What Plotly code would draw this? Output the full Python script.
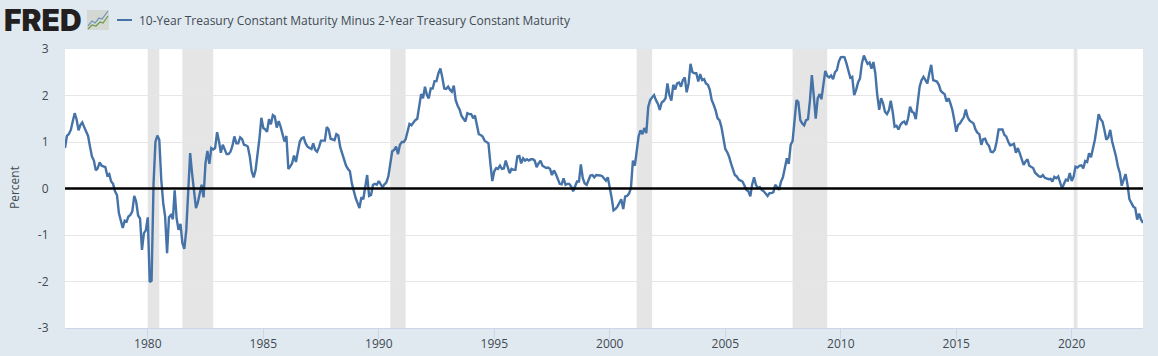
import pandas as pd
import plotly.graph_objects as go

SERIES_NAME = "10-Year Treasury Constant Maturity Minus 2-Year Treasury Constant Maturity"
START_MONTH = "1976-06-01"

v1976 = [.87, 1.13, 1.17, 1.26, 1.44, 1.62, 1.49]
v1977 = [1.25, 1.37, 1.42, 1.32, 1.22, 1.13, .9, .69, .6, .39, .44, .56]
v1978 = [.49, .47, .46, .28, .31, .15, .10, -.06, -.14, -.53, -.71, -.85]
v1979 = [-.69, -.71, -.6, -.57, -.49, -.16, -.28, -.58, -.65, -1.32, -.96, -.9]
v1980 = [-.62, -2.01, -1.98, .1, 1.0, 1.14, 1.05, .19, -.31, -.6, -1.39, -.62]
v1981 = [-.57, -.66, -.04, -.64, -.89, -.76, -1.17, -1.3, -.89, .04, .76, .33]
v1982 = [-.1, -.42, -.31, -.14, .08, -.19, .54, .81, .53, .87, .84, .87]
v1983 = [1.21, 1.01, .77, .94, .83, .74, .74, .79, .92, 1.12, .97, .97]
v1984 = [1.1, 1.06, .94, .93, .9, .69, .37, .24, .4, .69, 1.08, 1.52]
v1985 = [1.3, 1.27, 1.22, 1.49, 1.38, 1.58, 1.55, 1.31, 1.45, 1.33, 1.15, 1.01]
v1986 = [1.13, .42, .47, .54, .71, .57, .79, 1.01, 1.08, 1.1, .97, .9]
v1987 = [.87, .85, .97, .83, .79, .89, 1.03, 1.03, 1.03, 1.32, 1.27, 1.07]
v1988 = [1.05, 1.04, 1.17, 1.14, .89, .74, .63, .49, .42, .37, .11, -.06]
v1989 = [-.21, -.32, -.42, -.19, -.23, .04, .29, -.16, -.14, .08, .1, .08]
v1990 = [.16, .09, .03, .09, .13, .26, .51, .8, .83, .9, .74, .94]
v1991 = [1.0, 1.0, 1.06, 1.22, 1.39, 1.36, 1.42, 1.47, 1.5, 1.8, 2.03, 1.94]
v1992 = [2.19, 2.01, 1.94, 2.15, 2.15, 2.31, 2.31, 2.48, 2.58, 2.39, 2.15, 2.14]
v1993 = [2.19, 2.12, 2.08, 2.21, 1.9, 1.78, 1.7, 1.56, 1.51, 1.44, 1.62, 1.6]
v1994 = [1.6, 1.51, 1.57, 1.35, 1.17, 1.15, 1.12, 1.03, 1.0, .97, .53, .16]
v1995 = [.37, .44, .42, .49, .42, .43, .6, .44, .33, .42, .4, .4]
v1996 = [.69, .7, .54, .65, .6, .63, .6, .63, .63, .6, .46, .54]
v1997 = [.6, .49, .46, .44, .45, .42, .29, .39, .31, .22, .1, .09]
v1998 = [.22, .08, .1, .1, .04, -.06, .04, .15, .15, .52, .22, .11]
v1999 = [.08, .19, .28, .29, .24, .29, .29, .28, .27, .22, .17, .24]
v2000 = [.04, -.21, -.47, -.44, -.39, -.31, -.23, -.44, -.17, -.16, -.11, .01]
v2001 = [.6, .49, .83, 1.12, 1.25, 1.17, 1.3, 1.19, 1.76, 1.9, 1.96, 2.01]
v2002 = [1.9, 1.82, 1.69, 1.85, 1.88, 1.94, 2.26, 2.01, 1.89, 2.23, 2.13, 2.26]
v2003 = [2.28, 2.19, 2.33, 2.39, 2.07, 2.26, 2.68, 2.5, 2.48, 2.48, 2.3, 2.46]
v2004 = [2.33, 2.35, 2.26, 2.23, 2.12, 1.9, 1.8, 1.68, 1.51, 1.47, 1.32, 1.12]
v2005 = [.85, .78, .69, .54, .4, .29, .26, .19, .17, .15, .06, -.03]
v2006 = [-.06, -.17, .08, .24, .08, .01, .03, -.03, -.06, -.1, -.16, -.1]
v2007 = [-.1, -.08, .08, .03, -.03, .15, .24, .44, .65, .53, .94, 1.02]
v2008 = [1.53, 1.9, 1.86, 1.47, 1.4, 1.36, 1.47, 1.49, 1.9, 2.44, 1.98, 1.5]
v2009 = [1.94, 2.03, 1.92, 2.26, 2.53, 2.42, 2.39, 2.43, 2.35, 2.5, 2.55, 2.73]
v2010 = [2.82, 2.83, 2.82, 2.69, 2.55, 2.38, 2.4, 2.01, 2.12, 2.28, 2.37, 2.69]
v2011 = [2.86, 2.75, 2.68, 2.71, 2.58, 2.72, 2.48, 2.01, 1.69, 1.94, 1.83, 1.65]
v2012 = [1.6, 1.68, 1.89, 1.65, 1.33, 1.35, 1.27, 1.37, 1.42, 1.44, 1.37, 1.51]
v2013 = [1.76, 1.65, 1.63, 1.49, 1.9, 2.19, 2.33, 2.4, 2.33, 2.26, 2.48, 2.66]
v2014 = [2.33, 2.32, 2.3, 2.23, 2.1, 2.06, 2.03, 1.87, 1.94, 1.83, 1.69, 1.47]
v2015 = [1.22, 1.37, 1.4, 1.47, 1.53, 1.7, 1.53, 1.46, 1.42, 1.4, 1.27, 1.2]
v2016 = [1.17, .94, 1.06, 1.07, .97, .92, .79, .78, .83, 1.01, 1.27, 1.27]
v2017 = [1.27, 1.15, 1.12, 1.01, .93, .94, .96, .77, .87, .76, .63, .51]
v2018 = [.58, .63, .49, .47, .44, .34, .29, .26, .25, .29, .23, .21]
v2019 = [.2, .21, .15, .25, .22, .26, .11, .0, .1, .19, .17, .33]
v2020 = [.16, .26, .47, .45, .49, .5, .43, .59, .57, .76, .67, .83]
v2021 = [1.05, 1.32, 1.6, 1.49, 1.44, 1.26, 1.05, 1.1, 1.26, 1.01, .87, .69]
v2022 = [.47, .33, .06, .2, .31, .08, -.23, -.31, -.39, -.42, -.67, -.54]
v2023 = [-.67, -.74]

values = (v1976 + v1977 + v1978 + v1979 + v1980 + v1981 + v1982 + v1983 + v1984 + v1985
          + v1986 + v1987 + v1988 + v1989 + v1990 + v1991 + v1992 + v1993 + v1994 + v1995
          + v1996 + v1997 + v1998 + v1999 + v2000 + v2001 + v2002 + v2003 + v2004 + v2005
          + v2006 + v2007 + v2008 + v2009 + v2010 + v2011 + v2012 + v2013 + v2014 + v2015
          + v2016 + v2017 + v2018 + v2019 + v2020 + v2021 + v2022 + v2023)
dates = pd.date_range(START_MONTH, periods=len(values), freq="MS")

recession_start = ["1980-01-01", "1981-07-01", "1990-07-01", "2001-03-01", "2007-12-01", "2020-02-01"]
recession_end = ["1980-07-01", "1982-11-01", "1991-03-01", "2001-11-01", "2009-06-01", "2020-04-01"]

x_tick_years = [1980, 1985, 1990, 1995, 2000, 2005, 2010, 2015, 2020]
y_ticks = [-3, -2, -1, 0, 1, 2, 3]

W, H = 1158, 356
ML, MR, MT, MB = 65, 15, 49, 28
BG = "#e1e9f0"
LINE = "#4572a7"
FONT = "Open Sans, sans-serif"
TXT = "#3f4a52"

fig = go.Figure()
fig.add_trace(go.Scatter(x=dates, y=values, mode="lines", name=SERIES_NAME,
                         line=dict(color=LINE, width=2.4), showlegend=False))

shapes = []
for a, b in zip(recession_start, recession_end):
    shapes.append(dict(type="rect", xref="x", yref="paper", x0=a, x1=b, y0=0, y1=1,
                       fillcolor="#e5e5e5", line=dict(width=0), layer="between"))
shapes.append(dict(type="line", xref="paper", yref="y", x0=0, x1=1, y0=0, y1=0,
                   line=dict(color="#000000", width=2.5), layer="above"))


def px(x):
    return (x - ML) / (W - ML - MR)


def py(y):
    return 1 - (y - MT) / (H - MT - MB)


# legend swatch and logo icon, in page pixels
shapes.append(dict(type="line", xref="paper", yref="paper", x0=px(117), x1=px(132), y0=py(20), y1=py(20),
                   line=dict(color=LINE, width=2)))
shapes.append(dict(type="rect", xref="paper", yref="paper", x0=px(87), x1=px(109), y0=py(10), y1=py(30),
                   fillcolor="#d3d8d3", line=dict(width=0)))


def icon(points, color):
    d = "M" + " L".join(f"{px(a):.5f},{py(b):.5f}" for a, b in points)
    return dict(type="path", xref="paper", yref="paper", path=d, line=dict(color=color, width=1.2))


shapes.append(icon([(88, 26), (92, 21), (95, 23), (99, 18), (102, 19), (108, 11)], "#6f93bd"))
shapes.append(icon([(88, 29), (92, 25), (96, 26), (100, 22), (103, 23), (108, 16)], "#6d9a49"))

annotations = [
    dict(text="FRED", xref="paper", yref="paper", x=px(2), y=py(20), xanchor="left", yanchor="middle",
         showarrow=False, font=dict(family="Inter, Liberation Sans, sans-serif", size=30, weight=900, color="#231f20")),
    dict(text=SERIES_NAME, xref="paper", yref="paper", x=px(137), y=py(20), xanchor="left", yanchor="middle",
         showarrow=False, font=dict(family=FONT, size=12, color=TXT)),
    dict(text="Percent", xref="paper", yref="paper", x=px(15), y=py(188), xanchor="center", yanchor="middle",
         textangle=-90, showarrow=False, font=dict(family=FONT, size=12, color=TXT)),
]

fig.update_layout(
    width=W, height=H,
    margin=dict(l=ML, r=MR, t=MT, b=MB, autoexpand=False),
    paper_bgcolor=BG, plot_bgcolor="#ffffff",
    showlegend=False, shapes=shapes, annotations=annotations,
    font=dict(family=FONT, size=12, color=TXT),
    xaxis=dict(type="date", range=[dates[0], dates[-1]],
               tickvals=[f"{y}-01-01" for y in x_tick_years], ticktext=[str(y) for y in x_tick_years],
               ticks="outside", ticklen=10, tickcolor="#ccd6eb", tickwidth=1, ticklabelstandoff=-5,
               showline=True, linecolor="#ccd6eb", linewidth=1, showgrid=False, zeroline=False,
               tickfont=dict(family=FONT, size=12, color=TXT)),
    yaxis=dict(range=[-3, 3], tickvals=y_ticks, ticktext=[str(v) for v in y_ticks],
               gridcolor="#e6e6e6", gridwidth=1, zeroline=False, showline=False,
               ticks="outside", ticklen=13, tickcolor="rgba(0,0,0,0)",
               tickfont=dict(family=FONT, size=12, color=TXT)),
)

fig.write_html("out.html", config={"displayModeBar": False},
               post_script="document.body.style.margin='0';document.body.style.background='%s';" % BG)
